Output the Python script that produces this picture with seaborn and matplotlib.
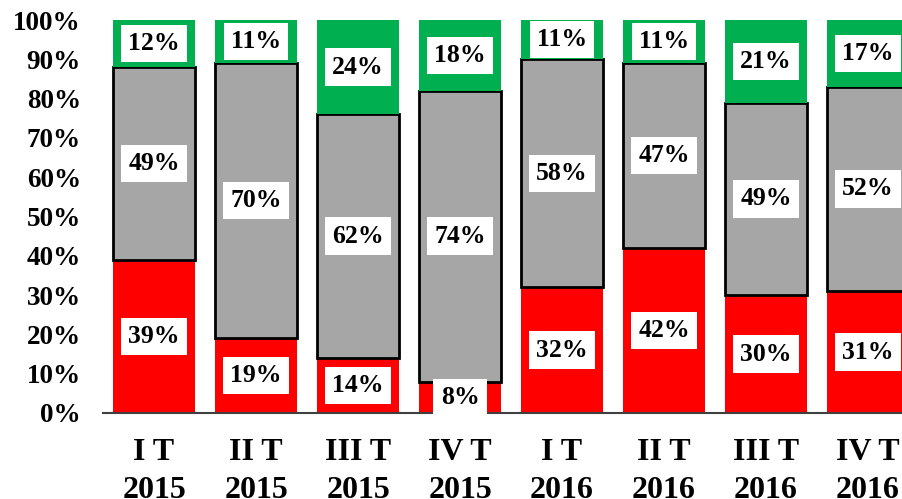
import numpy as np
import pandas as pd
import seaborn as sns
import matplotlib.pyplot as plt

periods = ['I T\n2015', 'II T\n2015', 'III T\n2015', 'IV T\n2015',
           'I T\n2016', 'II T\n2016', 'III T\n2016', 'IV T\n2016']
red_vals = [39, 19, 14, 8, 32, 42, 30, 31]
gray_vals = [49, 70, 62, 74, 58, 47, 49, 52]
green_vals = [12, 11, 24, 18, 11, 11, 21, 17]

sns.set_style('white')
plt.rcParams['font.family'] = ['Liberation Serif', 'DejaVu Serif']
plt.rcParams['font.weight'] = 'bold'
plt.rcParams['text.color'] = 'black'
plt.rcParams['xtick.color'] = 'black'
plt.rcParams['ytick.color'] = 'black'

df = pd.DataFrame({'period': periods, 'red': red_vals,
                   'gray': gray_vals, 'green': green_vals})
df['gray_bottom'] = df['red']
df['green_bottom'] = df['red'] + df['gray']

fig = plt.figure(figsize=(9.02, 4.99), dpi=100)
ax = fig.add_axes([103 / 902, 86 / 499, 816 / 902, 393 / 499])

sns.barplot(data=df, x='period', y='red', color='#FF0000', width=0.8,
            saturation=1, linewidth=0, ax=ax)
sns.barplot(data=df, x='period', y='gray', bottom=df['gray_bottom'].values,
            color='#A6A6A6', width=0.8, saturation=1, edgecolor='black',
            linewidth=2, ax=ax)
sns.barplot(data=df, x='period', y='green', bottom=df['green_bottom'].values,
            color='#00B050', width=0.8, saturation=1, linewidth=0, ax=ax)

box = dict(boxstyle='square,pad=0.28', facecolor='white', edgecolor='none')
for i in range(len(periods)):
    segs = [(0, red_vals[i]), (red_vals[i], gray_vals[i]),
            (red_vals[i] + gray_vals[i], green_vals[i])]
    for b, h in segs:
        y = b + h / 2
        if b + h > 100:
            y = b + (100 - b) / 2
        if h < 10:
            y = 4
        ax.text(i, y, f'{h}%', ha='center', va='center', fontsize=18.5,
                fontweight='bold', color='black', bbox=box, zorder=5)

ax.set_ylim(0, 100)
ax.set_xlim(-0.5, 7.5)
ax.set_yticks(np.arange(0, 101, 10))
ax.set_yticklabels([f'{v}%' for v in range(0, 101, 10)], fontsize=19.5,
                   fontweight='bold', color='black')
ax.tick_params(axis='x', labelsize=23, pad=18)
for lbl in ax.get_xticklabels():
    lbl.set_fontweight('bold')
    lbl.set_color('black')
    lbl.set_linespacing(1.4)
ax.tick_params(axis='y', pad=16)
ax.set_xlabel('')
ax.set_ylabel('')
sns.despine(ax=ax, left=True, top=True, right=True)
ax.spines['bottom'].set_color('#404040')
ax.spines['bottom'].set_linewidth(1.5)
ax.tick_params(length=0)

fig.savefig('out.png', dpi=100)
